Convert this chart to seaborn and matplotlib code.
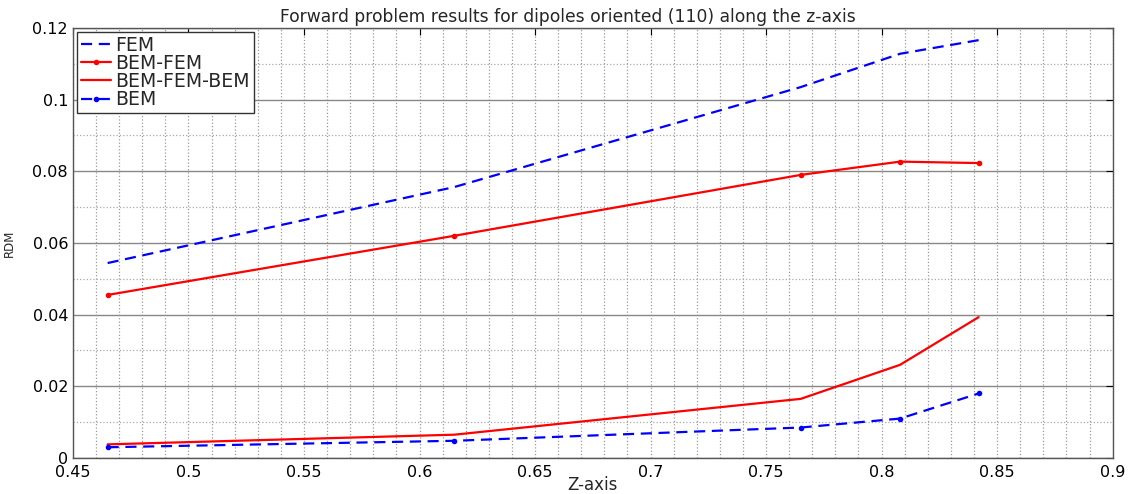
import matplotlib
matplotlib.use("Agg")
import matplotlib.pyplot as plt
import seaborn as sns
import pandas as pd
from matplotlib.ticker import MultipleLocator, FuncFormatter

# Z-axis positions of the dipoles
z_pos = [0.465, 0.615, 0.765, 0.808, 0.842]

# RDM values
fem = [0.0544, 0.0756, 0.1035, 0.1128, 0.1166]
bem_fem = [0.0455, 0.0620, 0.0790, 0.0827, 0.0823]
bem_fem_bem = [0.0038, 0.0065, 0.0165, 0.0260, 0.0393]
bem = [0.0030, 0.0048, 0.0085, 0.0110, 0.0180]

series_names = ["FEM", "BEM-FEM", "BEM-FEM-BEM", "BEM"]


def fmt(v, pos):
    return "%g" % round(v, 4)


def main():
    sns.set_style("white")
    plt.rcParams['font.family'] = ['DejaVu Sans']

    fig = plt.figure(figsize=(11.33, 4.94), dpi=100)
    ax = fig.add_axes([0.0644, 0.0729, 0.9176, 0.8705])

    df = pd.DataFrame({"z": z_pos * 4,
                       "rdm": fem + bem_fem + bem_fem_bem + bem,
                       "method": sum([[n] * len(z_pos) for n in series_names], [])})

    styles = {
        "FEM": dict(color="#0000ff", linestyle=(0, (5, 3)), marker=None),
        "BEM-FEM": dict(color="#ff0000", linestyle="-", marker="."),
        "BEM-FEM-BEM": dict(color="#ff0000", linestyle="-", marker=None),
        "BEM": dict(color="#0000ff", linestyle=(0, (5, 3)), marker="."),
    }
    for name in series_names:
        st = styles[name]
        sns.lineplot(data=df[df["method"] == name], x="z", y="rdm", ax=ax,
                     color=st["color"], linestyle=st["linestyle"],
                     marker=st["marker"], markersize=8, linewidth=1.6,
                     markeredgewidth=0, label=name, zorder=3)

    ax.set_xlim(0.45, 0.9)
    ax.set_ylim(0, 0.12)
    ax.xaxis.set_major_locator(MultipleLocator(0.05))
    ax.xaxis.set_minor_locator(MultipleLocator(0.01))
    ax.yaxis.set_major_locator(MultipleLocator(0.02))
    ax.yaxis.set_minor_locator(MultipleLocator(0.01))
    ax.xaxis.set_major_formatter(FuncFormatter(fmt))
    ax.yaxis.set_major_formatter(FuncFormatter(fmt))

    # grid: dotted verticals, solid major horizontals, dotted minor horizontals
    ax.grid(False)
    ax.xaxis.grid(True, which="both", linestyle=":", color="#999999", linewidth=0.9)
    ax.yaxis.grid(True, which="major", linestyle="-", color="#888888", linewidth=1.0)
    ax.yaxis.grid(True, which="minor", linestyle=":", color="#aaaaaa", linewidth=0.9)
    ax.set_axisbelow(True)

    ax.tick_params(which="both", direction="in", top=True, right=True,
                   labelsize=11.5, colors="black", length=5)
    ax.tick_params(axis="x", pad=5)
    ax.tick_params(which="minor", length=0)
    for sp in ax.spines.values():
        sp.set_color("#555555")
        sp.set_linewidth(1.0)

    ax.set_title("Forward problem results for dipoles oriented (110) along the z-axis",
                 fontsize=12.3, pad=4, x=0.476)
    ax.set_xlabel("Z-axis", fontsize=12, labelpad=-2.5)
    ax.set_ylabel("RDM", fontsize=8.5, labelpad=12)

    leg = ax.legend(loc="upper left", fontsize=13.6, frameon=True, fancybox=False,
                    borderpad=0.2, labelspacing=-0.04, handlelength=1.6,
                    handletextpad=0.25, borderaxespad=0.2)
    leg.get_frame().set_edgecolor("#333333")
    leg.get_frame().set_linewidth(1.0)
    leg.get_frame().set_alpha(1)

    fig.savefig("out.png", dpi=100)
    plt.close(fig)


if __name__ == "__main__":
    main()
